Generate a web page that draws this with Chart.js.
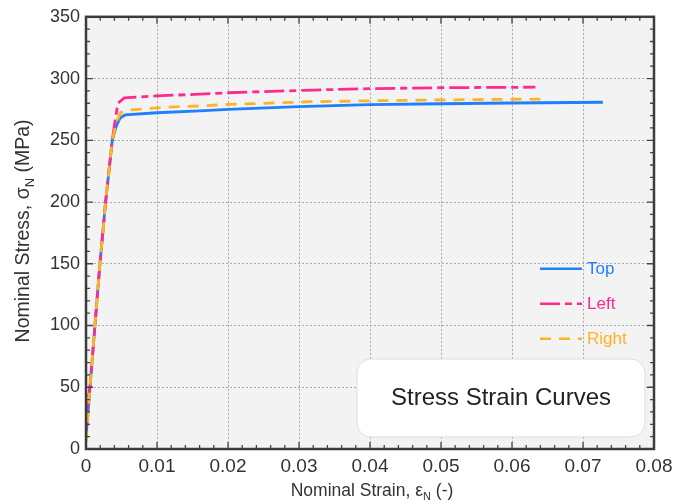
<!DOCTYPE html>
<html>
<head>
<meta charset="utf-8">
<script src="https://cdn.jsdelivr.net/npm/chart.js@4.4.1/dist/chart.umd.min.js"></script>
<style>
  html, body { margin: 0; padding: 0; background: #fff; }
</style>
</head>
<body>
<canvas id="grafico" width="691" height="504"></canvas>
<script>
// Datos (deformacion nominal, esfuerzo nominal en MPa)
const strainTop = [0, 0.0003, 0.00056, 0.00126, 0.00196, 0.00276, 0.0037, 0.0043, 0.0048, 0.0055, 0.01, 0.016, 0.02, 0.03, 0.04, 0.05, 0.06, 0.0728];
const stressTop = [10, 30, 50, 100, 150, 200, 250, 262, 268, 270.5, 272.3, 273.8, 275, 277.3, 278.8, 279.6, 280.2, 280.8];

const strainLeft = [0, 0.0002, 0.00056, 0.00126, 0.00196, 0.00276, 0.0037, 0.0041, 0.0045, 0.0054, 0.0099, 0.016, 0.02, 0.032, 0.04, 0.05, 0.0633];
const stressLeft = [12, 36, 50, 100, 150, 200, 250, 266, 280, 284.3, 286, 287.3, 288.5, 290.7, 291.8, 292.6, 293];

const strainRight = [0, 0.0003, 0.00056, 0.00126, 0.00196, 0.00276, 0.0037, 0.0043, 0.0049, 0.006, 0.011, 0.016, 0.02, 0.032, 0.045, 0.055, 0.064];
const stressRight = [6, 30, 50, 100, 150, 200, 250, 265, 272.5, 274.5, 276.7, 277.8, 279, 281.3, 282.4, 283, 283.4];

const seriesNames = ['Top', 'Left', 'Right'];
const seriesColors = ['#1f80ff', '#ff2a8c', '#ffb224'];

const xMax = 0.08;
const xStep = 0.01;
const yMax = 350;
const yStep = 50;

function puntos(xs, ys) {
  return xs.map(function (v, i) { return { x: v, y: ys[i] }; });
}

// Fondo gris del area de trazado
const fondoPlugin = {
  id: 'fondo',
  beforeDraw(chart) {
    const { ctx, chartArea: a } = chart;
    ctx.save();
    ctx.fillStyle = '#f3f3f3';
    ctx.fillRect(a.left, a.top, a.right - a.left, a.bottom - a.top);
    ctx.restore();
  }
};

// Marco y marcas hacia adentro en los cuatro lados
const marcoPlugin = {
  id: 'marco',
  afterDatasetsDraw(chart) {
    const { ctx, chartArea: a, scales } = chart;
    const x = scales.x, y = scales.y;
    ctx.save();
    ctx.strokeStyle = '#444';
    ctx.lineWidth = 1.3;
    ctx.beginPath();
    for (let i = 0; i <= 40; i++) {
      const px = x.getPixelForValue(i * 0.002);
      const len = i % 5 === 0 ? 7 : 4;
      ctx.moveTo(px, a.bottom); ctx.lineTo(px, a.bottom - len);
      ctx.moveTo(px, a.top); ctx.lineTo(px, a.top + len);
    }
    for (let i = 0; i <= 35; i++) {
      const py = y.getPixelForValue(i * 10);
      const len = i % 5 === 0 ? 7 : 4;
      ctx.moveTo(a.left, py); ctx.lineTo(a.left + len, py);
      ctx.moveTo(a.right, py); ctx.lineTo(a.right - len, py);
    }
    ctx.stroke();
    ctx.lineWidth = 2.5;
    ctx.strokeStyle = '#3c3c3c';
    ctx.strokeRect(a.left, a.top, a.right - a.left, a.bottom - a.top);
    ctx.restore();
  }
};

// Leyenda dentro del grafico
const leyendaPlugin = {
  id: 'leyenda',
  afterDatasetsDraw(chart) {
    const { ctx, chartArea: a } = chart;
    ctx.save();
    chart.data.datasets.forEach(function (ds, i) {
      const yy = a.top + 252 + i * 35;
      const x0 = a.right - 114;
      ctx.strokeStyle = ds.borderColor;
      ctx.lineWidth = 2.5;
      ctx.setLineDash(ds.borderDash || []);
      ctx.beginPath();
      ctx.moveTo(x0, yy);
      ctx.lineTo(x0 + 42, yy);
      ctx.stroke();
      ctx.setLineDash([]);
      ctx.fillStyle = ds.borderColor;
      ctx.font = '17px "Liberation Sans", Arial, sans-serif';
      ctx.textAlign = 'left';
      ctx.textBaseline = 'middle';
      ctx.fillText(ds.label, x0 + 47, yy + 1);
    });
    ctx.restore();
  }
};

// Cuadro con el titulo
const cuadroPlugin = {
  id: 'cuadro',
  afterDatasetsDraw(chart) {
    const { ctx, chartArea: a } = chart;
    const w = 288, h = 78;
    const left = a.right - 297, top = a.bottom - 90;
    ctx.save();
    ctx.fillStyle = '#ffffff';
    ctx.strokeStyle = '#dddddd';
    ctx.lineWidth = 1;
    ctx.beginPath();
    ctx.roundRect(left, top, w, h, 14);
    ctx.fill();
    ctx.stroke();
    ctx.fillStyle = '#222';
    ctx.font = '24px "Liberation Sans", Arial, sans-serif';
    ctx.textAlign = 'center';
    ctx.textBaseline = 'middle';
    ctx.fillText('Stress Strain Curves', left + w / 2, top + h / 2);
    ctx.restore();
  }
};

// Titulos de los ejes con subindice
function textoConSub(ctx, partes, cx, cy, size) {
  const fuente = '"Liberation Sans", Arial, sans-serif';
  const subSize = Math.round(size * 0.65);
  let total = 0;
  partes.forEach(function (p) {
    ctx.font = (p[1] ? subSize : size) + 'px ' + fuente;
    total += ctx.measureText(p[0]).width;
  });
  let xx = cx - total / 2;
  ctx.textAlign = 'left';
  ctx.textBaseline = 'middle';
  partes.forEach(function (p) {
    ctx.font = (p[1] ? subSize : size) + 'px ' + fuente;
    ctx.fillText(p[0], xx, p[1] ? cy + size * 0.35 : cy);
    xx += ctx.measureText(p[0]).width;
  });
}

const titulosPlugin = {
  id: 'titulos',
  afterDraw(chart) {
    const { ctx, chartArea: a } = chart;
    ctx.save();
    ctx.fillStyle = '#333';
    textoConSub(ctx, [['Nominal Strain, \u03b5', false], ['N', true], [' (-)', false]], (a.left + a.right) / 2 + 2, 491, 17.5);
    ctx.translate(24, (a.top + a.bottom) / 2 - 2);
    ctx.rotate(-Math.PI / 2);
    textoConSub(ctx, [['Nominal Stress, \u03c3', false], ['N', true], [' (MPa)', false]], 0, 0, 19.5);
    ctx.restore();
  }
};

const ctx = document.getElementById('grafico');

const data = {
  datasets: [
    {
      label: seriesNames[0],
      data: puntos(strainTop, stressTop),
      borderColor: seriesColors[0],
      borderWidth: 2.8,
      order: 3
    },
    {
      label: seriesNames[1],
      data: puntos(strainLeft, stressLeft),
      borderColor: seriesColors[1],
      borderWidth: 2.8,
      borderDash: [20, 5, 7, 5],
      order: 2
    },
    {
      label: seriesNames[2],
      data: puntos(strainRight, stressRight),
      borderColor: seriesColors[2],
      borderWidth: 2.8,
      borderDash: [11, 8],
      order: 1
    }
  ]
};

const config = {
  type: 'line',
  data: data,
  options: {
    responsive: false,
    devicePixelRatio: 1,
    animation: false,
    layout: { padding: { left: 0, right: 37, top: 15, bottom: 0 } },
    elements: {
      point: { radius: 0 },
      line: { tension: 0, fill: false }
    },
    plugins: {
      legend: { display: false },
      tooltip: { enabled: false }
    },
    scales: {
      x: {
        type: 'linear',
        min: 0,
        max: xMax,
        afterFit: function (s) { s.height = 55; },
        ticks: {
          stepSize: xStep,
          padding: 6,
          color: '#333',
          font: { family: '"Liberation Sans", Arial, sans-serif', size: 19 },
          callback: function (v) { return String(Number(v.toFixed(2))); }
        },
        grid: { color: '#a8a8a8', lineWidth: 1, drawTicks: false },
        border: { display: false, dash: [2, 2] }
      },
      y: {
        type: 'linear',
        min: 0,
        max: yMax,
        afterFit: function (s) { s.width = 86; },
        ticks: {
          stepSize: yStep,
          padding: 6,
          color: '#333',
          font: { family: '"Liberation Sans", Arial, sans-serif', size: 18 }
        },
        grid: { color: '#a8a8a8', lineWidth: 1, drawTicks: false },
        border: { display: false, dash: [2, 2] }
      }
    }
  },
  plugins: [fondoPlugin, marcoPlugin, leyendaPlugin, cuadroPlugin, titulosPlugin]
};

new Chart(ctx, config);
</script>
</body>
</html>
